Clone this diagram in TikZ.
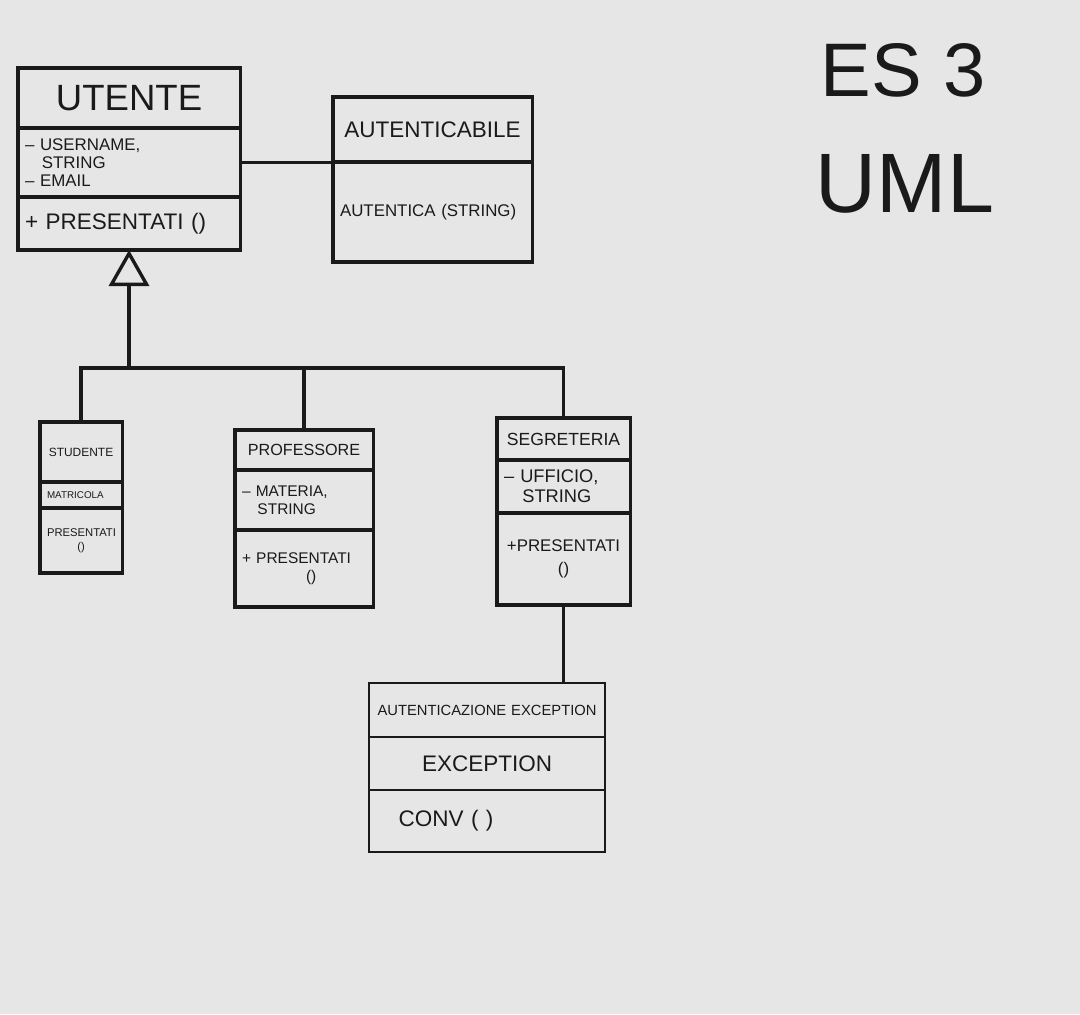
\documentclass[tikz,border=0pt]{standalone}
\usepackage{fontspec}
\setmainfont{Liberation Sans}
\usetikzlibrary{arrows.meta, positioning, calc}
\definecolor{umlpaper}{HTML}{E6E6E6}
\definecolor{umlink}{HTML}{1A1A1A}

\begin{document}
\begin{tikzpicture}[
    classpart/.style={rectangle, draw=umlink, line width=2.2pt, inner xsep=5pt, inner ysep=2pt, outer sep=0pt, text=umlink},
    classhead/.style 2 args={classpart, text width=#1, minimum height=#2, align=center},
    classbody/.style 2 args={classpart, text width=#1, minimum height=#2, align=left},
    thinpart/.style={line width=1.3pt},
    link/.style={draw=umlink, line width=2.4pt},
    extends/.style={link, -{Triangle[open, length=0.9cm, width=1cm]}},
    heading/.style={text=umlink, font=\fontsize{54}{58}\selectfont}
]

% paper
\fill[umlpaper] (0,0) rectangle (27,-25.35);

% Row 1: Utente and Autenticabile
\node[classhead={5.2cm}{1.5cm}, anchor=north west, font=\fontsize{26}{28}\selectfont] (ut_head) at (0.45,-1.70) {UTENTE};
\node[classbody={5.2cm}{1.725cm}, below=0cm of ut_head, font=\fontsize{12}{13}\selectfont] (ut_attr) {-- USERNAME,\\\quad STRING\\-- EMAIL};
\node[classbody={5.2cm}{1.325cm}, below=0cm of ut_attr, font=\fontsize{16}{18}\selectfont] (ut_ops) {+ PRESENTATI ()};

\node[classhead={4.625cm}{1.625cm}, anchor=north west, font=\fontsize{16}{18}\selectfont] (aut_head) at (8.325,-2.425) {AUTENTICABILE};
\node[classbody={4.625cm}{2.5cm}, below=0cm of aut_head, font=\fontsize{12}{14}\selectfont] (aut_ops) {AUTENTICA (STRING)\\[0.9cm]};

% Row 2: the three subclasses
\node[classhead={1.7cm}{1.5cm}, anchor=north west, font=\fontsize{8.5}{10}\selectfont] (stu_head) at (1.0,-10.55) {STUDENTE};
\node[classbody={1.7cm}{0.65cm}, below=0cm of stu_head, font=\fontsize{7}{8}\selectfont] (stu_attr) {MATRICOLA};
\node[classhead={1.7cm}{1.625cm}, below=0cm of stu_attr, font=\fontsize{8}{10}\selectfont] (stu_ops) {PRESENTATI\\()};

\node[classhead={3.1cm}{1.0cm}, anchor=north west, font=\fontsize{11.5}{13}\selectfont] (prof_head) at (5.875,-10.75) {PROFESSORE};
\node[classbody={3.1cm}{1.5cm}, below=0cm of prof_head, font=\fontsize{11}{13}\selectfont] (prof_attr) {-- MATERIA,\\\quad STRING};
\node[classbody={3.1cm}{1.925cm}, below=0cm of prof_attr, font=\fontsize{11}{13}\selectfont] (prof_ops) {+ PRESENTATI\\\hspace*{1.6cm}()};

\node[classhead={2.975cm}{1.05cm}, anchor=north west, font=\fontsize{12.5}{14}\selectfont] (seg_head) at (12.425,-10.45) {SEGRETERIA};
\node[classbody={2.975cm}{1.325cm}, below=0cm of seg_head, font=\fontsize{13}{14}\selectfont] (seg_attr) {-- UFFICIO,\\\quad STRING};
\node[classhead={2.975cm}{2.3cm}, below=0cm of seg_attr, font=\fontsize{12}{16}\selectfont] (seg_ops) {+PRESENTATI\\()};

% Row 3: the exception
\node[classhead={5.55cm}{1.35cm}, thinpart, anchor=north west, font=\fontsize{10.5}{12}\selectfont] (exc_head) at (9.225,-17.075) {AUTENTICAZIONE EXCEPTION};
\node[classhead={5.55cm}{1.325cm}, thinpart, below=0cm of exc_head, font=\fontsize{16}{18}\selectfont] (exc_attr) {EXCEPTION};
\node[classbody={5.55cm}{1.55cm}, thinpart, below=0cm of exc_attr, font=\fontsize{16}{18}\selectfont] (exc_ops) {\quad CONV ( )};

% Titles
\node[heading] (es) at (22.575,-1.75) {ES 3};
\node[heading, font=\fontsize{60}{64}\selectfont] (uml) at (22.625,-4.6) {UML};

% Association
\draw[link] (ut_attr.east) -- (ut_attr.east -| aut_ops.west);

% Inheritance
\coordinate (bus) at ($(ut_ops.south)+(0,-2.95)$);
\draw[extends] (bus) -- (ut_ops.south);
\draw[link] (stu_head.north) |- (bus);
\draw[link] (prof_head.north) |- (bus);
\draw[link] (seg_head.north) |- (bus);

% Segreteria to exception
\draw[link, line width=1.8pt] (seg_ops.south) -- (seg_ops.south |- exc_head.north);

\end{tikzpicture}
\end{document}
